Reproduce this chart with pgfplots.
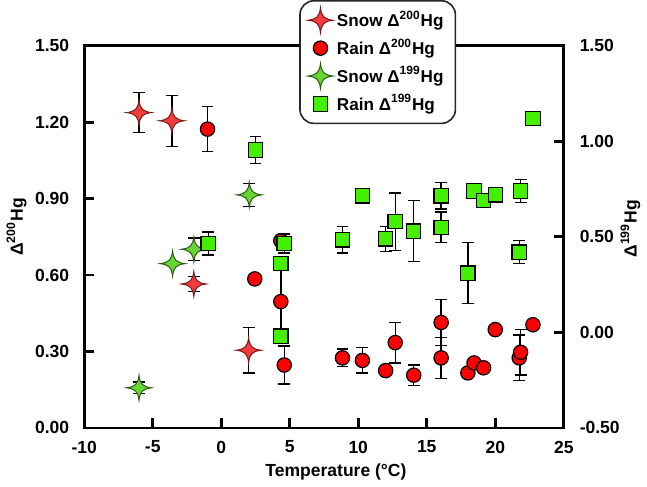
\documentclass[border=0pt]{standalone}
\usepackage{fontspec}
\setmainfont{Liberation Sans}
\usepackage{pgfplots}
\usepackage{pgfplotstable}
\pgfplotsset{compat=1.18}

\definecolor{snowred}{HTML}{F03C3C}
\definecolor{snowredline}{HTML}{7A1A1A}
\definecolor{rainred}{HTML}{FF0000}
\definecolor{snowgreen}{HTML}{66D633}
\definecolor{snowgreenline}{HTML}{2E5A14}
\definecolor{raingreen}{HTML}{44F000}

% x = temperature, y = value, e = error
\pgfplotstableread{
x y e
-6.0 1.238 0.078
-3.6 1.206 0.10
-2.0 0.565 0.03
2.0 0.305 0.09
}\snowtwo
\pgfplotstableread{
x y e
-1.0 1.173 0.088
2.45 0.585 0
4.35 0.735 0
4.35 0.496 0.14
4.6 0.247 0.075
8.85 0.275 0.035
10.3 0.265 0.05
12.0 0.225 0
12.7 0.335 0.08
14.05 0.207 0.04
16.05 0.414 0.09
16.05 0.275 0.08
18.0 0.216 0
18.45 0.255 0
19.15 0.236 0
20.0 0.386 0
21.75 0.275 0.09
21.85 0.297 0.09
22.75 0.405 0
}\raintwo
\pgfplotstableread{
x y e
-6.0 -0.29 0.03
-3.55 0.36 0
-2.0 0.435 0.06
2.05 0.72 0.06
}\snownine
\pgfplotstableread{
x y e
-0.95 0.465 0.06
2.5 0.955 0.07
4.6 0.465 0.05
4.35 0.36 0
4.35 -0.02 0
8.85 0.485 0.07
10.3 0.715 0.015
12.0 0.49 0.065
12.7 0.58 0.15
14.05 0.53 0.16
16.05 0.715 0.07
16.05 0.55 0.08
18.0 0.31 0.16
18.45 0.74 0
19.15 0.69 0
20.0 0.72 0.01
21.85 0.74 0.06
21.75 0.42 0.06
22.75 1.12 0
}\rainnine

% four-pointed star with curved sides
\pgfdeclareplotmark{star4}{%
  \pgfpathmoveto{\pgfqpoint{0pt}{\pgfplotmarksize}}%
  \pgfpathcurveto{\pgfqpoint{0.08\pgfplotmarksize}{0.3\pgfplotmarksize}}{\pgfqpoint{0.3\pgfplotmarksize}{0.08\pgfplotmarksize}}{\pgfqpoint{\pgfplotmarksize}{0pt}}%
  \pgfpathcurveto{\pgfqpoint{0.3\pgfplotmarksize}{-0.08\pgfplotmarksize}}{\pgfqpoint{0.08\pgfplotmarksize}{-0.3\pgfplotmarksize}}{\pgfqpoint{0pt}{-\pgfplotmarksize}}%
  \pgfpathcurveto{\pgfqpoint{-0.08\pgfplotmarksize}{-0.3\pgfplotmarksize}}{\pgfqpoint{-0.3\pgfplotmarksize}{-0.08\pgfplotmarksize}}{\pgfqpoint{-\pgfplotmarksize}{0pt}}%
  \pgfpathcurveto{\pgfqpoint{-0.3\pgfplotmarksize}{0.08\pgfplotmarksize}}{\pgfqpoint{-0.08\pgfplotmarksize}{0.3\pgfplotmarksize}}{\pgfqpoint{0pt}{\pgfplotmarksize}}%
  \pgfpathclose
  \pgfusepathqfillstroke
}

\pgfplotsset{
  snow200/.style={only marks, mark=star4, mark size=6.3pt,
    mark options={fill=snowred, draw=snowredline, line width=0.5pt}},
  rain200/.style={only marks, mark=*, mark size=3.6pt,
    mark options={fill=rainred, draw=black, line width=0.6pt}},
  snow199/.style={only marks, mark=star4, mark size=6.3pt,
    mark options={fill=snowgreen, draw=snowgreenline, line width=0.5pt}},
  rain199/.style={only marks, mark=square*, mark size=3.6pt,
    mark options={fill=raingreen, draw=black, line width=0.6pt}},
  % error bars only, drawn beneath the marks
  errs/.style={forget plot, draw=none, mark=none,
    error bars/.cd, y dir=both, y explicit,
    error mark=-, error bar style={line width=0.7pt, black, solid},
    error mark options={rotate=90, line width=0.7pt, mark size=3pt, black}},
  common/.style={
    width=241pt, height=192pt, scale only axis,
    xmin=-10, xmax=25, clip=false,
    axis line style={line width=1.4pt},
    major tick style={line width=1.4pt, black},
    major tick length=5pt,
    tick align=inside,
    tick label style={font=\bfseries\fontsize{8.8}{10}\selectfont},
    label style={font=\bfseries\fontsize{8.8}{10}\selectfont},
    /pgf/number format/assume math mode=true,
  },
}

\begin{document}
\begin{tikzpicture}
\begin{axis}[common,
    ymin=0, ymax=1.5,
    xtick={-10,-5,0,5,10,15,20,25},
    ytick={0,0.3,0.6,0.9,1.2,1.5},
    xtick pos=bottom, ytick pos=left,
    yticklabel style={/pgf/number format/fixed, /pgf/number format/fixed zerofill,
      /pgf/number format/precision=2, xshift=-4pt},
    xticklabel style={yshift=-3pt},
    xlabel={Temperature (°C)},
    xlabel style={at={(axis description cs:0.525,-0.115)}, anchor=center},
]
\addplot[errs] table[x=x, y=y, y error=e] {\snowtwo};
\addplot[errs] table[x=x, y=y, y error=e] {\raintwo};
\addplot[snow200] table[x=x, y=y] {\snowtwo};
\addplot[rain200] table[x=x, y=y] {\raintwo};
\node[rotate=90, anchor=center, font=\bfseries\fontsize{8.8}{10}\selectfont]
  at (rel axis cs:-0.141,0.526) {Δ\textsuperscript{200}Hg};
\end{axis}

\begin{axis}[common,
    ymin=-0.5, ymax=1.5,
    axis x line=none, axis y line*=right,
    ytick={-0.5,0,0.5,1,1.5},
    yticklabel style={/pgf/number format/fixed, /pgf/number format/fixed zerofill,
      /pgf/number format/precision=2, xshift=4.5pt},
    legend style={at={(axis description cs:0.612,1.12)}, anchor=north,
      draw=black!85, line width=0.8pt, rounded corners=7pt, fill=white,
      font=\bfseries\fontsize{8.6}{10}\selectfont,
      row sep=0.5pt, inner xsep=4pt, inner ysep=3pt},
    legend cell align=left,
]
\addplot[errs] table[x=x, y=y, y error=e] {\snownine};
\addplot[errs] table[x=x, y=y, y error=e] {\rainnine};
\addlegendimage{snow200}
\addlegendentry{Snow Δ\textsuperscript{200}Hg}
\addlegendimage{rain200}
\addlegendentry{Rain Δ\textsuperscript{200}Hg}
\addplot[snow199] table[x=x, y=y] {\snownine};
\addlegendentry{Snow Δ\textsuperscript{199}Hg}
\addplot[rain199] table[x=x, y=y] {\rainnine};
\addlegendentry{Rain Δ\textsuperscript{199}Hg}
\node[rotate=90, anchor=center, font=\bfseries\fontsize{8.8}{10}\selectfont]
  at (rel axis cs:1.139,0.521) {Δ\textsuperscript{199}Hg};
\end{axis}
\end{tikzpicture}
\end{document}
